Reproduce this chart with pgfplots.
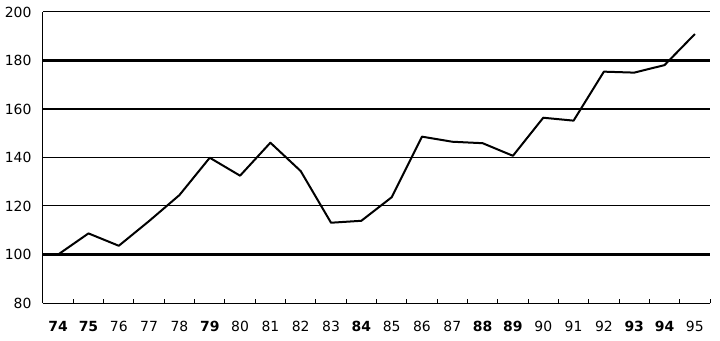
\documentclass[border=0pt]{standalone}
\usepackage{fontspec}
\setmainfont{DejaVu Sans}
\usepackage{pgfplots}
\pgfplotsset{compat=1.18}
\begin{document}
\begin{tikzpicture}
\begin{axis}[
  at={(0,0)}, anchor=south west,
  scale only axis,
  width=667bp, height=291bp,
  xmin=0, xmax=22, ymin=80, ymax=200,
  axis x line*=bottom, axis y line*=left,
  axis line style={line width=1bp, black},
  xtick={0.5,1.5,...,21.5},
  xticklabels={\textbf{74},\textbf{75},76,77,78,\textbf{79},80,81,82,83,\textbf{84},85,86,87,\textbf{88},\textbf{89},90,91,92,\textbf{93},\textbf{94},95},
  major x tick style={draw=none},
  minor xtick={1,2,...,22},
  minor x tick style={line width=1bp, black},
  minor tick length=4bp,
  xtick align=inside,
  ytick={80,100,...,200},
  major y tick style={draw=none},
  ymajorgrids,
  major grid style={line width=1bp, black},
  extra y ticks={100,160,180},
  extra y tick labels={},
  extra y tick style={major grid style={line width=2.2bp, black}, major tick length=0pt},
  /pgf/number format/assume math mode=true,
  tick label style={font=\fontsize{14}{16}\selectfont, black},
  xticklabel style={yshift=-15bp},
  yticklabel style={xshift=-8bp},
  clip=false,
]
\addplot[black, line width=2bp, line join=round] table {
x y
0.5 100
1.5 108.7
2.5 103.6
3.5 113.8
4.5 124.5
5.5 139.9
6.5 132.5
7.5 146.1
8.5 134.4
9.5 113.1
10.5 113.9
11.5 123.6
12.5 148.6
13.5 146.5
14.5 145.9
15.5 140.7
16.5 156.4
17.5 155.2
18.5 175.4
19.5 175.0
20.5 178.1
21.5 190.9
};
\end{axis}
\pgfresetboundingbox
\path[use as bounding box] (-43bp,-38bp) rectangle (677bp,303bp);
\end{tikzpicture}
\end{document}
